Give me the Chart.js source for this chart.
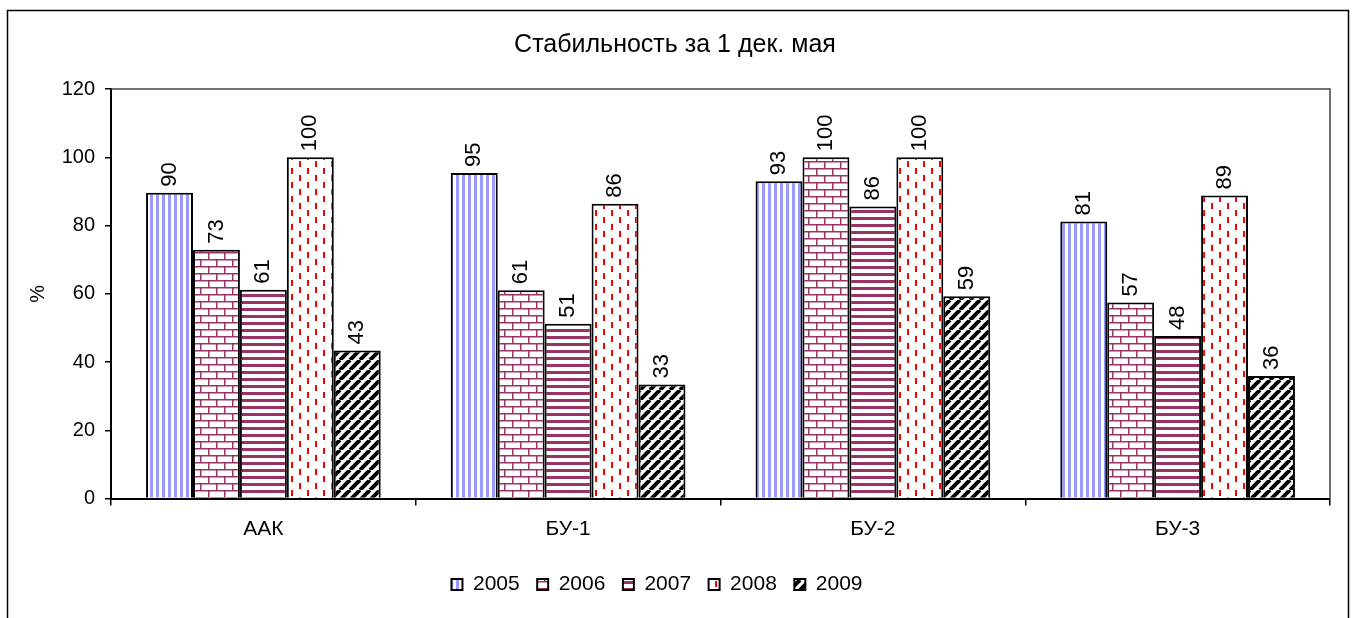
<!DOCTYPE html>
<html>
<head>
<meta charset="utf-8">
<script src="https://cdn.jsdelivr.net/npm/chart.js@4/dist/chart.umd.min.js"></script>
<style>
  html, body { margin: 0; padding: 0; background: #fff; }
  canvas { display: block; }
</style>
</head>
<body>
<canvas id="myChart" width="1354" height="618"></canvas>
<script>
const categories = ["ААК", "БУ-1", "БУ-2", "БУ-3"];
const years = ["2005", "2006", "2007", "2008", "2009"];
const v2005 = [89.6, 95.4, 93, 81.2];
const v2006 = [72.9, 61, 100, 57.4];
const v2007 = [61.2, 51.2, 85.6, 47.6];
const v2008 = [100, 86.4, 100, 88.8];
const v2009 = [43.4, 33.4, 59.3, 35.9];
const yTicks = [0, 20, 40, 60, 80, 100, 120];

const FONT = '"Liberation Sans", Arial, sans-serif';
const ctx = document.getElementById("myChart");
const c2d = ctx.getContext("2d");

function makePattern(w, h, draw) {
  const c = document.createElement("canvas");
  c.width = w;
  c.height = h;
  const g = c.getContext("2d");
  g.fillStyle = "#fff";
  g.fillRect(0, 0, w, h);
  draw(g);
  return c2d.createPattern(c, "repeat");
}

// vertical light blue stripes
const pat2005 = makePattern(6, 6, (g) => {
  g.fillStyle = "#9999ff";
  g.fillRect(0, 0, 3, 6);
});
// bricks
const pat2006 = makePattern(16, 14, (g) => {
  g.fillStyle = "#993366";
  g.fillRect(0, 0, 16, 1.5);
  g.fillRect(0, 7, 16, 1.5);
  g.fillRect(0, 0, 1.5, 7);
  g.fillRect(8, 7, 1.5, 7);
});
// horizontal stripes
const pat2007 = makePattern(4, 7, (g) => {
  g.fillStyle = "#993366";
  g.fillRect(0, 0, 4, 3);
});
// red dashes
const pat2008 = makePattern(16, 14, (g) => {
  g.fillStyle = "#ff0000";
  g.fillRect(3, 0, 2, 6);
  g.fillRect(11, 7, 2, 6);
});
// black diagonals
const pat2009 = makePattern(10, 10, (g) => {
  g.strokeStyle = "#000";
  g.lineWidth = 4;
  g.beginPath();
  for (const k of [-10, 0, 10]) {
    g.moveTo(k, 10);
    g.lineTo(k + 10, 0);
  }
  g.stroke();
});

const fills = [pat2005, pat2006, pat2007, pat2008, pat2009];
const values = [v2005, v2006, v2007, v2008, v2009];

const frame = {
  id: "frame",
  afterLayout(chart) {
    // legend sits a little left of the page centre
    chart.legend.left -= 18;
    chart.legend.right -= 18;
  },
  beforeDraw(chart) {
    const g = chart.ctx;
    g.save();
    g.fillStyle = "#fff";
    g.fillRect(0, 0, chart.width, chart.height);
    g.strokeStyle = "#000";
    g.lineWidth = 1.5;
    g.strokeRect(7.5, 10.5, 1341, 640);
    g.restore();
  },
  afterDraw(chart) {
    const a = chart.chartArea;
    const g = chart.ctx;
    g.save();
    g.strokeStyle = "#444";
    g.lineWidth = 1.5;
    g.beginPath();
    g.moveTo(a.left, a.top);
    g.lineTo(a.right, a.top);
    g.lineTo(a.right, a.bottom);
    g.stroke();
    g.restore();
  },
};

const valueLabels = {
  id: "valueLabels",
  afterDatasetsDraw(chart) {
    const g = chart.ctx;
    g.save();
    g.font = "22px " + FONT;
    g.fillStyle = "#000";
    g.textAlign = "left";
    g.textBaseline = "middle";
    chart.data.datasets.forEach((ds, i) => {
      chart.getDatasetMeta(i).data.forEach((bar, j) => {
        g.save();
        g.translate(bar.x, bar.y - 6);
        g.rotate(-Math.PI / 2);
        g.fillText(String(Math.round(ds.data[j])), 0, 0);
        g.restore();
      });
    });
    g.restore();
  },
};

new Chart(ctx, {
  type: "bar",
  data: {
    labels: categories,
    datasets: years.map((y, i) => ({
      label: y,
      data: values[i],
      backgroundColor: fills[i],
      borderColor: "#000",
      borderWidth: 2,
      barPercentage: 1,
      categoryPercentage: 0.77,
    })),
  },
  options: {
    responsive: false,
    animation: false,
    layout: { padding: { left: 20, right: 24, top: 0, bottom: 13 } },
    plugins: {
      tooltip: { enabled: false },
      title: {
        display: true,
        text: "Стабильность за 1 дек. мая",
        color: "#000",
        font: { family: FONT, size: 25, weight: "normal" },
        padding: { top: 30, bottom: 29 },
      },
      legend: {
        position: "bottom",
        labels: {
          color: "#000",
          font: { family: FONT, size: 21 },
          boxWidth: 11,
          boxHeight: 11,
          padding: 17.5,
        },
      },
    },
    scales: {
      x: {
        afterFit: (s) => { s.height = 58; },
        grid: { drawOnChartArea: false, offset: true, tickLength: 7, color: "#000", lineWidth: 1.5 },
        border: { color: "#000", width: 2 },
        ticks: { color: "#000", font: { family: FONT, size: 21 }, padding: 11 },
      },
      y: {
        min: 0,
        max: 120,
        afterFit: (s) => { s.width = 91; },
        afterBuildTicks: (s) => { s.ticks = yTicks.map((v) => ({ value: v })); },
        grid: { drawOnChartArea: false, tickLength: 6, color: "#000", lineWidth: 1.5 },
        border: { color: "#000", width: 2 },
        ticks: { color: "#000", font: { family: FONT, size: 20 }, padding: 10 },
        title: {
          display: true,
          text: "%",
          color: "#000",
          font: { family: FONT, size: 20 },
          padding: { top: 6, bottom: 0 },
        },
      },
    },
  },
  plugins: [frame, valueLabels],
});
</script>
</body>
</html>
